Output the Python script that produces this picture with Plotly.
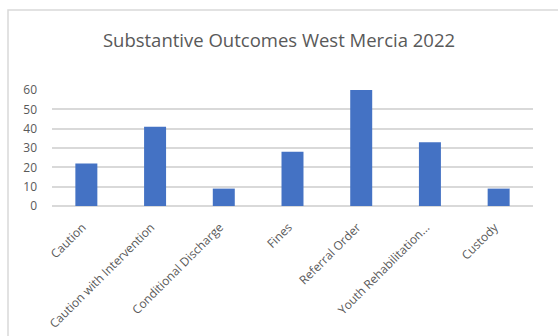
import plotly.graph_objects as go

categories = [
    "Caution",
    "Caution with Intervention",
    "Conditional Discharge",
    "Fines",
    "Referral Order",
    "Youth Rehabilitation...",
    "Custody",
]
outcomes = [22, 41, 9, 28, 60, 33, 9]
y_ticks = [0, 10, 20, 30, 40, 50, 60]

fig = go.Figure(
    go.Bar(
        x=categories,
        y=outcomes,
        marker=dict(color="#4472C4", line=dict(width=0)),
    )
)

fig.update_layout(
    width=558,
    height=336,
    margin=dict(l=52, r=25, t=90, b=130),
    paper_bgcolor="white",
    plot_bgcolor="white",
    bargap=0.68,
    showlegend=False,
    font=dict(family="Open Sans, Liberation Sans, sans-serif", color="#595959"),
    title=dict(
        text="Substantive Outcomes West Mercia 2022",
        x=0.5,
        xanchor="center",
        y=1 - 41 / 336,
        yanchor="middle",
        font=dict(size=18.5, color="#595959"),
    ),
    xaxis=dict(
        tickangle=-45,
        tickfont=dict(size=12, color="#595959"),
        showgrid=False,
        showline=False,
        ticks="",
        ticklabelstandoff=11,
        ticklabelshift=-4,
        automargin=False,
    ),
    yaxis=dict(
        range=[0, 60],
        tickvals=y_ticks,
        tickfont=dict(size=12, color="#595959"),
        showgrid=True,
        gridcolor="#d9d9d9",
        gridwidth=1.5,
        zeroline=True,
        zerolinecolor="#d9d9d9",
        zerolinewidth=1.5,
        showline=False,
        ticks="",
        ticklabelstandoff=14,
        automargin=False,
    ),
    shapes=[
        dict(
            type="rect",
            xref="paper",
            yref="paper",
            x0=(8 - 52) / 481,
            x1=1.2,
            y0=-1.5,
            y1=(206 - 10) / 116,
            line=dict(color="#d9d9d9", width=1.5),
            fillcolor="rgba(0,0,0,0)",
            layer="below",
        )
    ],
)

fig.write_html("out.html")
